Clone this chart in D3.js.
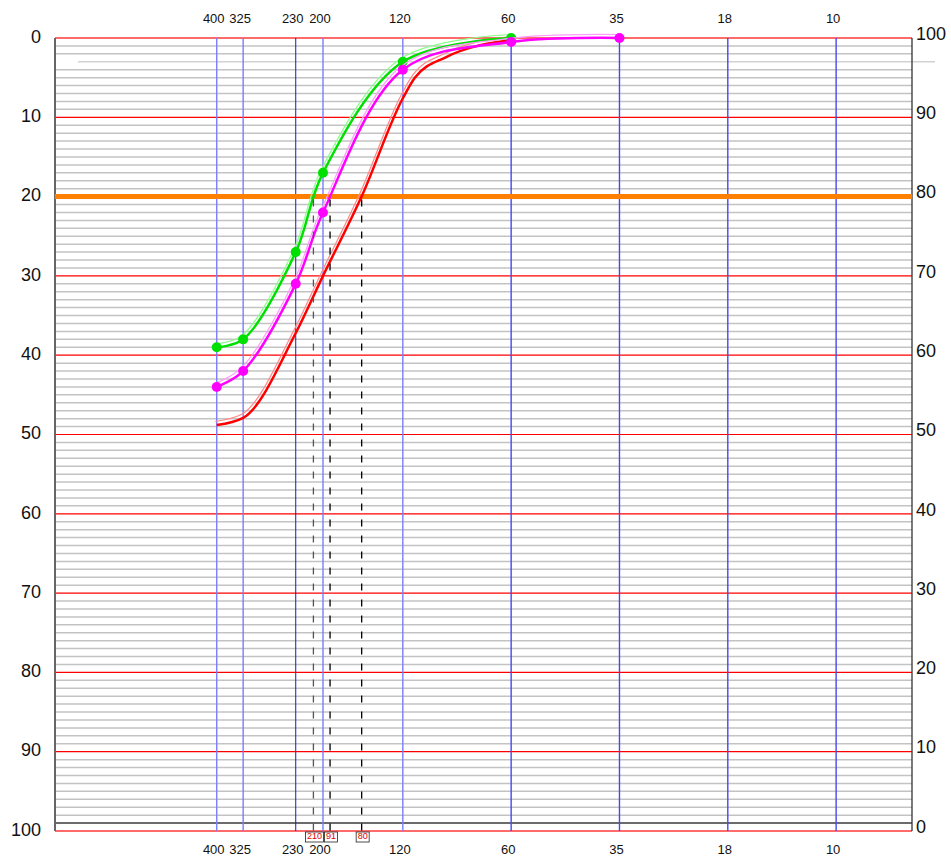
<!DOCTYPE html>
<html lang="en">
<head>
<meta charset="UTF-8">
<title>Sieve curves</title>
<script src="https://d3js.org/d3.v7.min.js"></script>
<style>
  body { margin: 0; background: #fff; }
  svg { display: block; font-family: "Liberation Sans", Arial, sans-serif; }
</style>
</head>
<body>
<div id="chart"></div>
<script>
// Sieve mesh labels and their aperture (micron) used for the log x scale
const meshLabels = [400, 325, 230, 200, 120, 60, 35, 18, 10];
const sieveMicrons = [38, 45, 63, 75, 125, 250, 500, 1000, 2000];

// Cumulative retained (%) per mesh, starting at 400 mesh
const greenRetained = [39, 38, 27, 17, 3, 0];
const magentaRetained = [44, 42, 31, 22, 4, 0.5, 0];

// Red curve has no markers; at these sizes (micron)
const redMicrons = [38, 45, 63, 75, 96, 125, 135, 165, 205, 250];
const redRetained = [48.8, 47.9, 37.2, 30, 20, 7.6, 5.0, 2.4, 0.9, 0.3];

// Axis tick labels
const leftTickLabels = [0, 10, 20, 30, 40, 50, 60, 70, 80, 90, 100];
const rightTickLabels = [100, 90, 80, 70, 60, 50, 40, 30, 20, 10, 0];

// Cut line and the readouts at its crossings (green, magenta, red)
const cutLevel = 20;
const cutLabels = ["210", "91", "80"];
const refLevel = 3;
const baseLevel = 99;

const width = 951, height = 865;
const plotLeft = 55, plotRight = 912, plotTop = 38, plotBottom = 831;

const svg = d3.select("#chart").append("svg")
  .attr("width", width)
  .attr("height", height);

const x = d3.scaleLog().domain([13.5, 3250]).range([plotLeft, plotRight]);
const y = d3.scaleLinear().domain([0, 100]).range([plotTop, plotBottom]);
const micron = d3.scaleOrdinal().domain(meshLabels).range(sieveMicrons);

// Minor grid, one line per unit
const minor = d3.range(1, 100).filter(v => v % 10 !== 0 && v !== refLevel && v !== baseLevel);
svg.append("g").selectAll("line")
  .data(minor)
  .join("line")
  .attr("x1", plotLeft).attr("x2", plotRight)
  .attr("y1", d => y(d)).attr("y2", d => y(d))
  .attr("stroke", "#c3c3c3")
  .attr("stroke-width", 1.5);

// Light reference line
svg.append("line")
  .attr("x1", 78).attr("x2", 935)
  .attr("y1", y(refLevel)).attr("y2", y(refLevel))
  .attr("stroke", "#d2d2d2")
  .attr("stroke-width", 1.5);

svg.append("line")
  .attr("x1", plotLeft).attr("x2", plotRight)
  .attr("y1", y(baseLevel)).attr("y2", y(baseLevel))
  .attr("stroke", "#3a3a3a")
  .attr("stroke-width", 1.5);

// Major grid (every 10)
svg.append("g").selectAll("line")
  .data(leftTickLabels)
  .join("line")
  .attr("x1", plotLeft).attr("x2", plotRight)
  .attr("y1", d => y(d)).attr("y2", d => y(d))
  .attr("stroke", d => (d === 0 || d === 100) ? "#ff6a6a" : "#ff0000")
  .attr("stroke-width", d => (d === 0 || d === 100) ? 2 : 1.2);

// Vertical sieve lines
svg.append("g").selectAll("line")
  .data(meshLabels)
  .join("line")
  .attr("x1", d => x(micron(d))).attr("x2", d => x(micron(d)))
  .attr("y1", plotTop).attr("y2", plotBottom)
  .attr("stroke", d => d === 230 ? "#1a1ab8" : (d >= 120 ? "#7b7bff" : "#4848f0"))
  .attr("stroke-width", d => d === 230 ? 1 : 1.4);

// Axis frame lines
svg.append("line")
  .attr("x1", plotLeft).attr("x2", plotLeft).attr("y1", plotTop).attr("y2", plotBottom)
  .attr("stroke", "#666").attr("stroke-width", 2);
svg.append("line")
  .attr("x1", plotRight).attr("x2", plotRight).attr("y1", plotTop).attr("y2", plotBottom)
  .attr("stroke", "#333").attr("stroke-width", 1.3);

// Cut line
svg.append("line")
  .attr("x1", plotLeft).attr("x2", plotRight)
  .attr("y1", y(cutLevel)).attr("y2", y(cutLevel))
  .attr("stroke", "#ff8000")
  .attr("stroke-width", 5);

// Curves
const series = [
  { sizes: redMicrons, values: redRetained, color: "#ff0000", shadow: "#ff8a8a", marks: false, curve: d3.curveMonotoneX },
  { sizes: sieveMicrons, values: greenRetained, color: "#00e000", shadow: "#8cff8c", marks: true, curve: d3.curveCatmullRom.alpha(0.5) },
  { sizes: sieveMicrons, values: magentaRetained, color: "#ff00ff", shadow: "#ff9cff", marks: true, curve: d3.curveCatmullRom.alpha(0.5) }
];

const paths = [];
series.forEach(s => {
  const line = d3.line()
    .x(d => x(d.size))
    .y(d => y(d.value))
    .curve(s.curve);
  const pts = s.values.map((v, i) => ({ size: s.sizes[i], value: v }));
  svg.append("path")
    .datum(pts)
    .attr("d", line)
    .attr("fill", "none")
    .attr("stroke", s.shadow)
    .attr("stroke-width", 1.2)
    .attr("transform", "translate(-1.5,-3.5)");
  const p = svg.append("path")
    .datum(pts)
    .attr("d", line)
    .attr("fill", "none")
    .attr("stroke", s.color)
    .attr("stroke-width", 2.5);
  paths.push(p.node());
  if (s.marks) {
    svg.append("g").selectAll("circle")
      .data(pts)
      .join("circle")
      .attr("cx", d => x(d.size))
      .attr("cy", d => y(d.value))
      .attr("r", 5)
      .attr("fill", s.color);
  }
});

// Where each curve crosses the cut level
function crossing(node) {
  const len = node.getTotalLength();
  const target = y(cutLevel);
  let prev = node.getPointAtLength(0);
  for (let l = 0.5; l <= len; l += 0.5) {
    const pt = node.getPointAtLength(l);
    if (prev.y > target && pt.y <= target) return pt.x;
    prev = pt;
  }
  return prev.x;
}
const order = [1, 2, 0]; // green, magenta, red
const cuts = order.map((idx, i) => ({ x: crossing(paths[idx]), label: cutLabels[i], first: i === 0 }));

svg.append("g").selectAll("line")
  .data(cuts)
  .join("line")
  .attr("x1", d => d.x).attr("x2", d => d.x)
  .attr("y1", y(cutLevel) + 3).attr("y2", plotBottom + 1)
  .attr("stroke", d => d.first ? "#555" : "#000")
  .attr("stroke-width", 1.3)
  .attr("stroke-dasharray", "7,9");

const boxes = svg.append("g").selectAll("g")
  .data(cuts)
  .join("g")
  .attr("transform", d => `translate(${d.x + 1},${plotBottom + 1})`);
boxes.append("rect")
  .attr("x", d => -(d.label.length * 5 + 3) / 2)
  .attr("width", d => d.label.length * 5 + 3)
  .attr("y", 0).attr("height", 10)
  .attr("fill", "#fff")
  .attr("stroke", "#222")
  .attr("stroke-width", 0.8);
boxes.append("text")
  .attr("y", 5)
  .attr("text-anchor", "middle")
  .attr("dominant-baseline", "middle")
  .attr("fill", "#e00000")
  .attr("font-size", 9)
  .text(d => d.label);

// Left and right value labels
svg.append("g").selectAll("text")
  .data(leftTickLabels)
  .join("text")
  .attr("x", 41)
  .attr("y", d => y(d))
  .attr("text-anchor", "end")
  .attr("dominant-baseline", "middle")
  .attr("font-size", 18)
  .attr("fill", "#111")
  .text(d => d);

svg.append("g").selectAll("text")
  .data(rightTickLabels)
  .join("text")
  .attr("x", 916)
  .attr("y", (d, i) => y(leftTickLabels[i]) - 3)
  .attr("text-anchor", "start")
  .attr("dominant-baseline", "middle")
  .attr("font-size", 18)
  .attr("fill", "#111")
  .text(d => d);

// Mesh labels top and bottom
[20, 851].forEach(ty => {
  svg.append("g").selectAll("text")
    .data(meshLabels)
    .join("text")
    .attr("x", d => x(micron(d)) - 3)
    .attr("y", ty)
    .attr("text-anchor", "middle")
    .attr("dominant-baseline", "middle")
    .attr("font-size", 13)
    .attr("fill", "#111")
    .text(d => d);
});
</script>
</body>
</html>
